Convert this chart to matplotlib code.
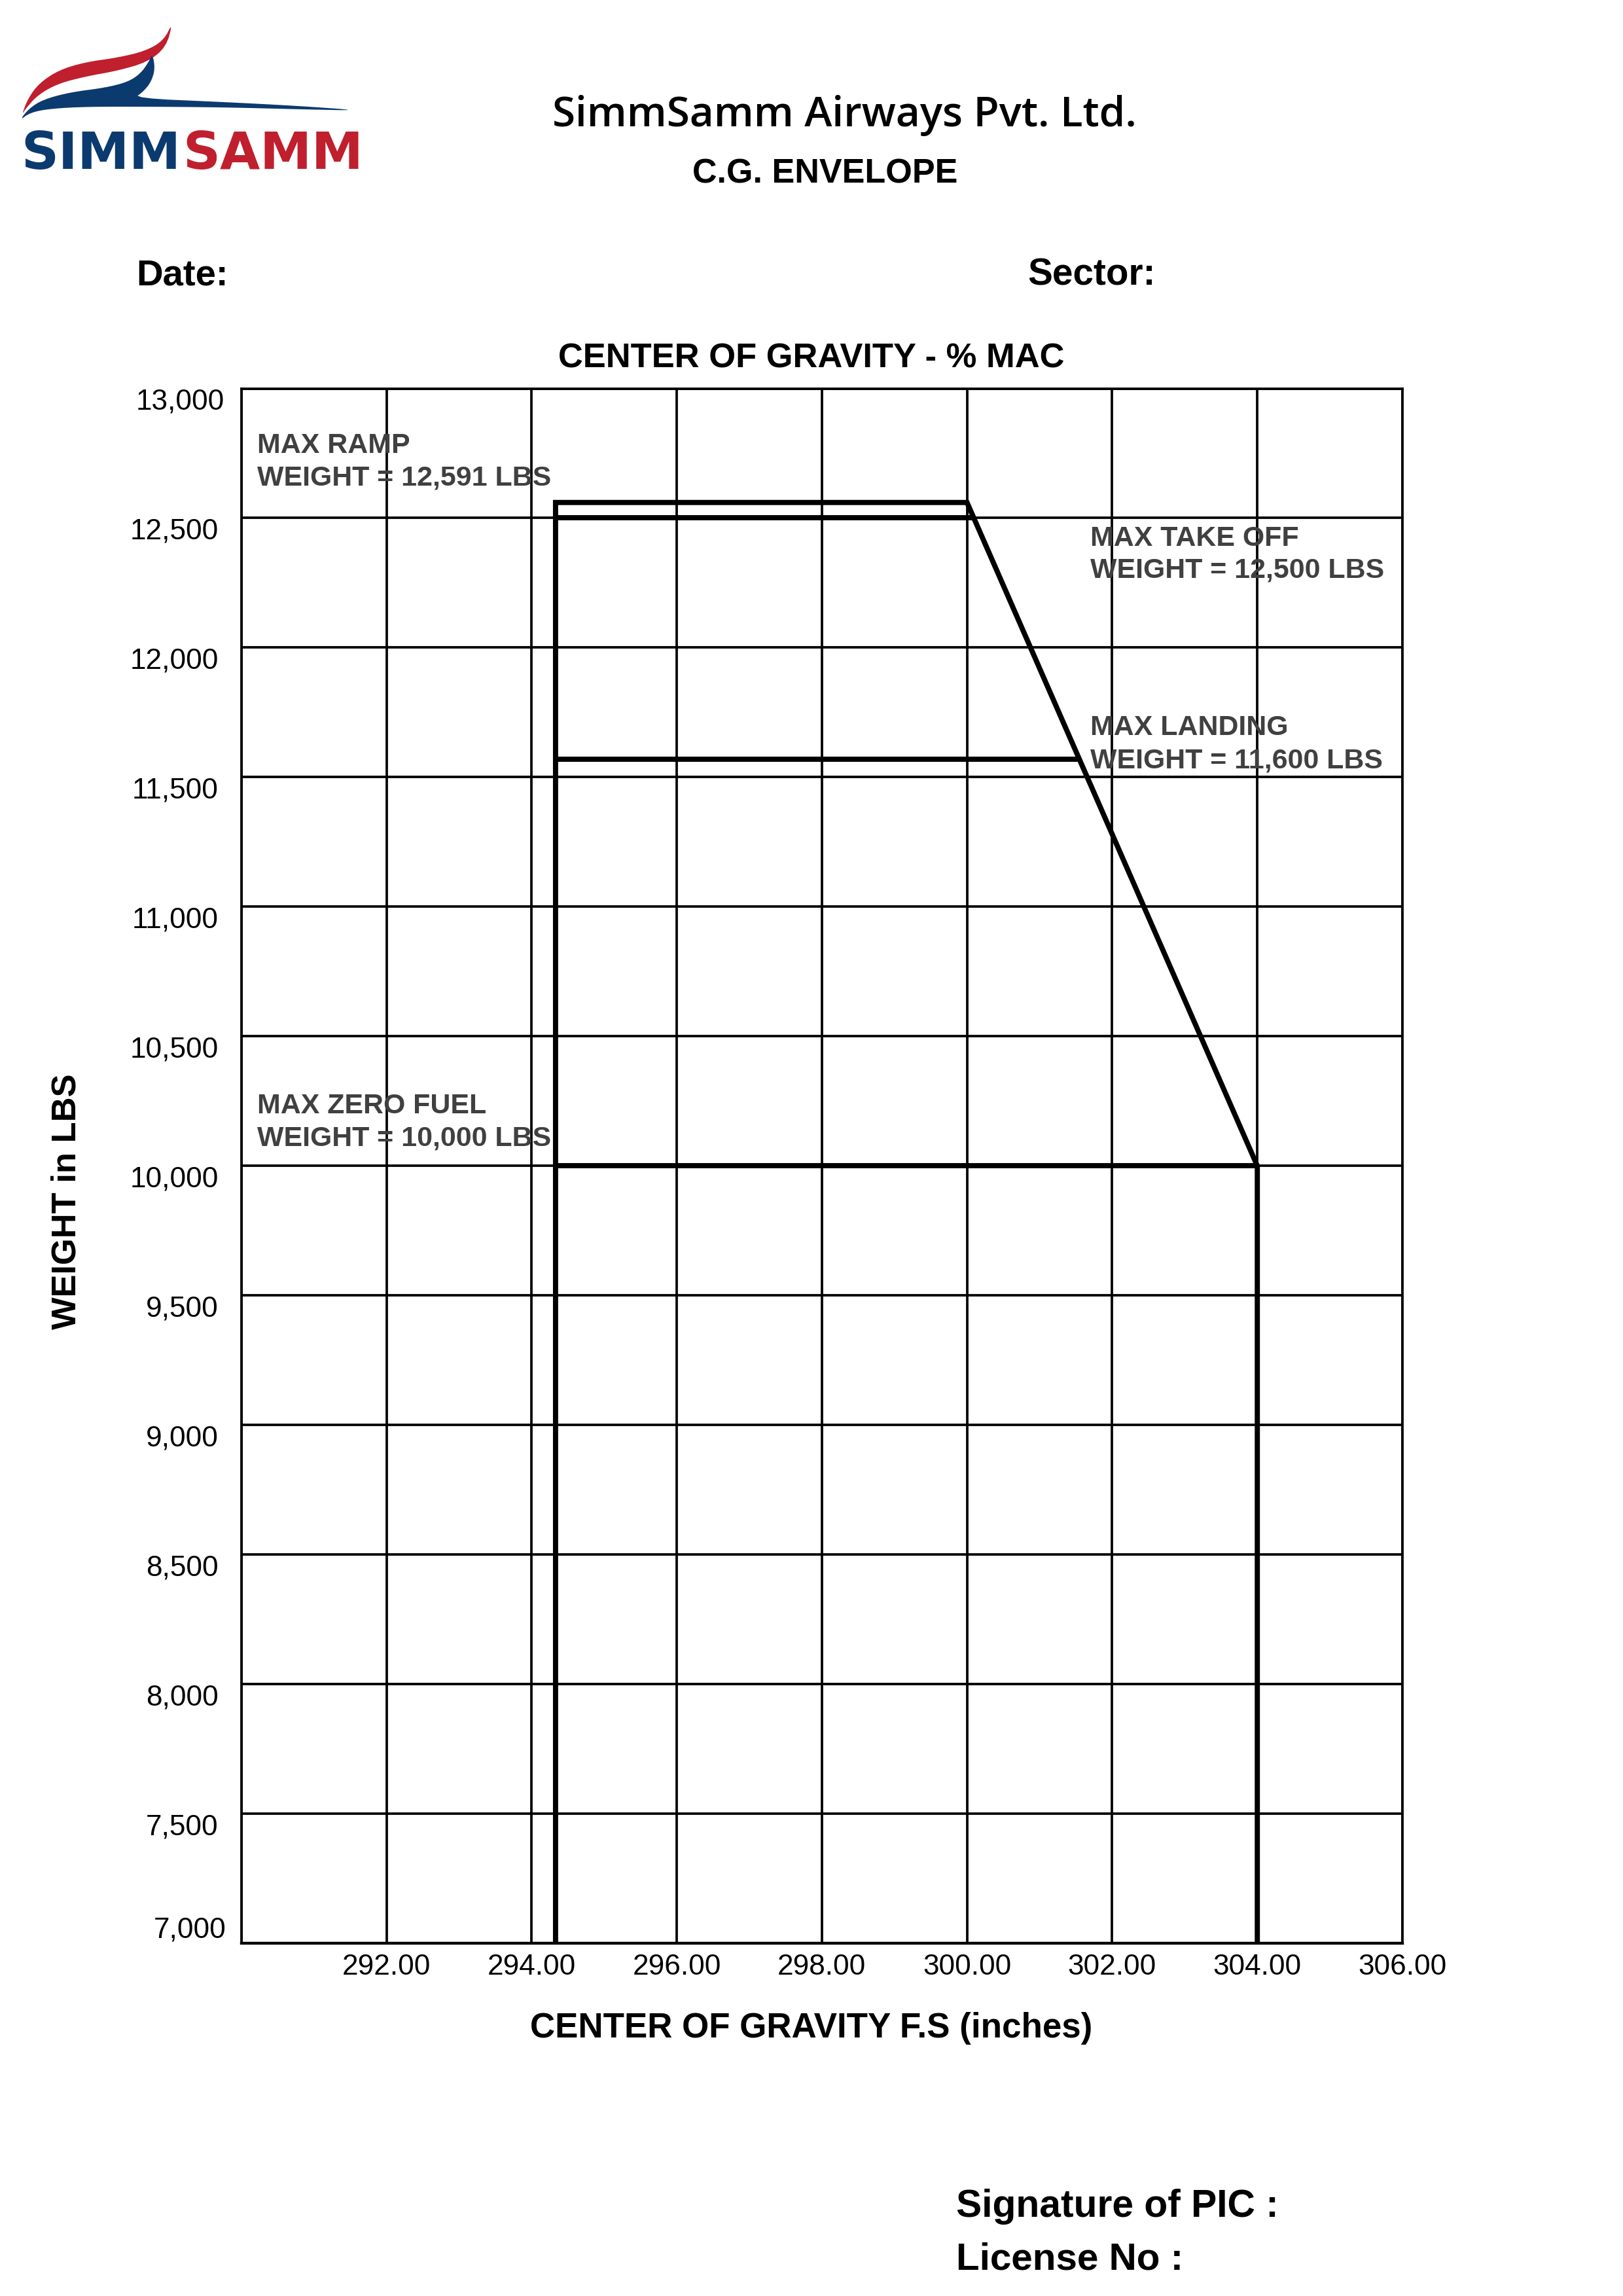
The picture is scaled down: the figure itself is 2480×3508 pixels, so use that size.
import numpy as np
import matplotlib
matplotlib.use("Agg")
import matplotlib.pyplot as plt
from matplotlib.patches import Polygon
from matplotlib.transforms import ScaledTranslation

# ---------------- data ----------------
cg_ticks = [290, 292, 294, 296, 298, 300, 302, 304, 306]
cg_tick_labels = ["", "292.00", "294.00", "296.00", "298.00", "300.00", "302.00", "304.00", "306.00"]
weight_ticks = [7000, 7500, 8000, 8500, 9000, 9500, 10000, 10500, 11000, 11500, 12000, 12500, 13000]
weight_tick_labels = ["7,000", "7,500", "8,000", "8,500", "9,000", "9,500", "10,000",
                      "10,500", "11,000", "11,500", "12,000", "12,500", "13,000"]

# outer C.G. envelope (forward limit, max ramp, aft diagonal, aft limit)
envelope_cg = [294.33, 294.33, 300.0, 304.0, 304.0]
envelope_wt = [7000, 12560, 12560, 10000, 7000]

# horizontal weight limits inside the envelope
limit_wt = [12500, 11570, 10000]
fwd_limit_cg = 294.33
aft_diag_wt = [10000, 12560]
aft_diag_cg = [304.0, 300.0]

annot_line1 = ["MAX RAMP", "MAX TAKE OFF", "MAX LANDING", "MAX ZERO FUEL"]
annot_line2 = ["WEIGHT = 12,591 LBS", "WEIGHT = 12,500 LBS", "WEIGHT = 11,600 LBS", "WEIGHT = 10,000 LBS"]
annot_x = [290.22, 301.70, 301.70, 290.22]
annot_y1 = [12752, 12393, 11663, 10203]
annot_y2 = [12626, 12269, 11536, 10077]

# ---------------- figure ----------------
W, H = 2480, 3508
DPI = 300
fig = plt.figure(figsize=(W / DPI, H / DPI), dpi=DPI)
fig.patch.set_facecolor("white")

SANS = ["Liberation Sans", "DejaVu Sans"]
NAVY = "#0b3a6f"
RED = "#c01f2e"
GREY = "#404040"

# overlay for page-level items (pixel coordinates)
ov = fig.add_axes([0, 0, 1, 1], zorder=-1)
ov.set_xlim(0, W)
ov.set_ylim(H, 0)
ov.axis("off")


def chaikin(pts, n=3):
    p = np.asarray(pts, float)
    for _ in range(n):
        q = 0.75 * p + 0.25 * np.roll(p, -1, axis=0)
        r = 0.25 * p + 0.75 * np.roll(p, -1, axis=0)
        p = np.empty((2 * len(q), 2))
        p[0::2] = q
        p[1::2] = r
    return p


red_shape = [(264, 34), (250, 62), (222, 78), (180, 88), (130, 95), (90, 107), (60, 127),
             (43, 150), (33, 176), (40, 165), (58, 145), (88, 128), (130, 117), (180, 108),
             (225, 95), (254, 72)]
blue_shape = [(233, 82), (237, 105), (231, 125), (219, 140), (205, 150), (344, 156), (459, 162),
              (555, 169), (459, 167), (344, 164), (230, 163), (134, 163), (77, 166), (46, 172),
              (30, 184), (44, 166), (66, 152), (107, 141), (161, 134), (196, 125), (215, 112),
              (227, 95)]
ov.add_patch(Polygon(chaikin(red_shape, 2), closed=True, facecolor=RED, edgecolor="none"))
ov.add_patch(Polygon(chaikin(blue_shape, 2), closed=True, facecolor=NAVY, edgecolor="none"))
ov.text(276, 258, "SIMM", color=NAVY, fontsize=19, fontweight="bold",
        family=["DejaVu Sans"], ha="right", va="baseline")
ov.text(279, 258, "SAMM", color=RED, fontsize=19, fontweight="bold",
        family=["DejaVu Sans"], ha="left", va="baseline")

ov.text(1290, 193, "SimmSamm Airways Pvt. Ltd.", fontsize=15.3, fontweight=600,
        family=["Open Sans", "DejaVu Sans"], ha="center", va="baseline", color="black")
ov.text(1261, 280, "C.G. ENVELOPE", fontsize=12.5, fontweight="bold",
        family=SANS, ha="center", va="baseline")
ov.text(208, 436, "Date:", fontsize=13.5, fontweight="bold", family=SANS, ha="left", va="baseline")
ov.text(1570, 436, "Sector:", fontsize=13.6, fontweight="bold", family=SANS, ha="left", va="baseline")
ov.text(1461, 3387, "Signature of PIC :", fontsize=14.1, fontweight="bold", family=SANS,
        ha="left", va="baseline")
ov.text(1461, 3467, "License No :", fontsize=14.0, fontweight="bold", family=SANS,
        ha="left", va="baseline")

# ---------------- main chart ----------------
L, R, T, B = 368.75, 2143.0, 593.5, 2969.3
ax = fig.add_axes([L / W, 1 - B / H, (R - L) / W, (B - T) / H])
ax.set_facecolor("white")
ax.set_xlim(290, 306)
ax.set_ylim(7000, 13000)

ax.set_xticks(cg_ticks)
ax.set_xticklabels(cg_tick_labels)
ax.set_yticks(weight_ticks)
ax.set_yticklabels(weight_tick_labels)
ax.grid(True, color="black", linewidth=0.9, zorder=1)
ax.set_axisbelow(True)
ax.tick_params(axis="both", length=0, labelsize=10.6, labelcolor="black")
ax.tick_params(axis="x", pad=3.8)
ax.tick_params(axis="y", pad=8.4)
for lab in ax.get_xticklabels() + ax.get_yticklabels():
    lab.set_family(SANS)
yt = ax.yaxis.get_major_ticks()
for tick in yt:
    tick.label1.set_verticalalignment("top")
yt[0].label1.set_verticalalignment("bottom")
yt[0].label1.set_transform(yt[0].label1.get_transform()
                           + ScaledTranslation(12 / DPI, 0, fig.dpi_scale_trans))
yt[-1].label1.set_transform(yt[-1].label1.get_transform()
                            + ScaledTranslation(9 / DPI, 0, fig.dpi_scale_trans))

for s in ax.spines.values():
    s.set_linewidth(0.9)
    s.set_color("black")
ax.spines["bottom"].set_linewidth(1.05)

ax.plot(envelope_cg, envelope_wt, color="black", linewidth=1.9,
        solid_joinstyle="miter", zorder=3)
for w in limit_wt:
    x_end = np.interp(w, aft_diag_wt, aft_diag_cg)
    ax.plot([fwd_limit_cg, x_end], [w, w], color="black", linewidth=1.9,
            solid_capstyle="butt", zorder=3)

for t1, t2, x, y1, y2 in zip(annot_line1, annot_line2, annot_x, annot_y1, annot_y2):
    ax.text(x, y1, t1, color=GREY, fontsize=10.3, fontweight="bold", family=SANS,
            ha="left", va="baseline", zorder=4)
    ax.text(x, y2, t2, color=GREY, fontsize=10.3, fontweight="bold", family=SANS,
            ha="left", va="baseline", zorder=4)

ax.text(0.491, (B - 562) / (B - T), "CENTER OF GRAVITY - % MAC", transform=ax.transAxes,
        fontsize=12.6, fontweight="bold", family=SANS, ha="center", va="baseline")

ax.set_xlabel("CENTER OF GRAVITY F.S (inches)", fontsize=12.7, fontweight="bold",
              family=SANS, va="baseline")
ax.xaxis.set_label_coords((1240 - L) / (R - L), (B - 3113) / (B - T))
ax.set_ylabel("WEIGHT in LBS", fontsize=12.6, fontweight="bold", family=SANS, va="center")
ax.yaxis.set_label_coords((102 - L) / (R - L), (B - 1836) / (B - T))

fig.savefig("out.png", dpi=DPI, facecolor="white")
